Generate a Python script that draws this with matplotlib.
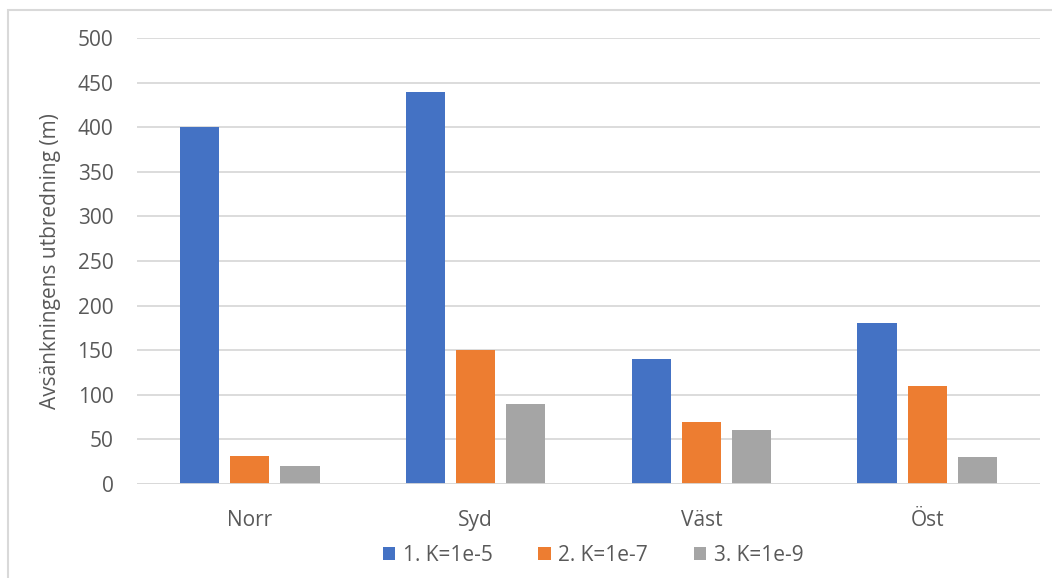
import numpy as np
import matplotlib
matplotlib.use('Agg')
import matplotlib.pyplot as plt
from matplotlib.patches import Rectangle

# Avsänkningens utbredning per riktning och K-värde
regions = ['Norr', 'Syd', 'Väst', 'Öst']
series = ['1. K=1e-5', '2. K=1e-7', '3. K=1e-9']
k5 = [400, 440, 140, 180]
k7 = [31, 150, 70, 110]
k9 = [20, 90, 60, 30]
colors = ['#4472C4', '#ED7D31', '#A5A5A5']
yticks = [0, 50, 100, 150, 200, 250, 300, 350, 400, 450, 500]

plt.rcParams['font.family'] = ['Open Sans', 'DejaVu Sans']
txt = '#595959'

fig = plt.figure(figsize=(10.52, 5.78), dpi=100)
ax = fig.add_axes([137/1052, 1-484/578, 903/1052, 446/578])

x = np.arange(len(regions))
w = 0.173
step = 0.222
for i, (vals, lab) in enumerate(zip([k5, k7, k9], series)):
    ax.bar(x + (i-1)*step, vals, width=w, color=colors[i], label=lab, zorder=3)

ax.set_xlim(-0.5, len(regions)-0.5)
ax.set_ylim(0, 500)
ax.set_yticks(yticks)
ax.set_xticks(x)
ax.set_xticklabels(regions)
ax.tick_params(length=0, labelsize=15, colors=txt)
ax.tick_params(axis='y', pad=17)
ax.tick_params(axis='x', pad=19)
ax.grid(axis='y', color='#D9D9D9', linewidth=1.3, zorder=0)
for s in ax.spines.values():
    s.set_visible(False)
ax.axhline(0, color='#D9D9D9', linewidth=1.3, zorder=4)
ax.set_ylabel('Avsänkningens utbredning (m)', fontsize=15, color=txt, labelpad=12)

ax.legend(loc='upper center', bbox_to_anchor=(0.505, -0.095), ncol=3, frameon=False,
          fontsize=15, labelcolor=txt, handlelength=0.6, handleheight=0.6,
          handletextpad=0.35, columnspacing=2.2)

# chart area frame
fig.patches.append(Rectangle((8/1052, -0.1), 1.2, (578-10)/578 + 0.1,
                             transform=fig.transFigure, fill=False,
                             edgecolor='#D9D9D9', linewidth=1.5))

fig.savefig('out.png', dpi=100)
